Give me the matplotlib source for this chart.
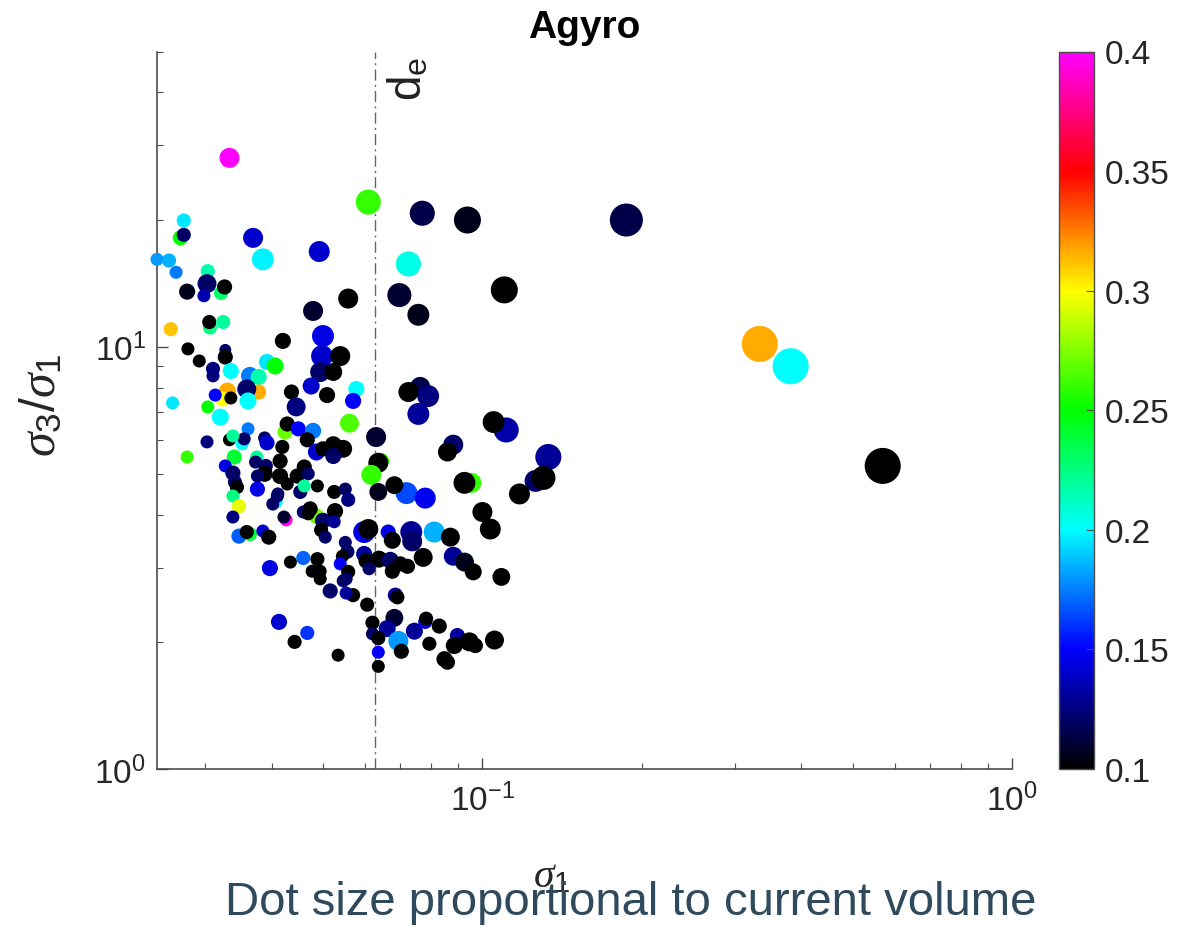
import numpy as np
import matplotlib
matplotlib.use("Agg")
import matplotlib.pyplot as plt
from matplotlib.colors import LinearSegmentedColormap

plt.rcParams["font.family"] = ["Liberation Sans", "DejaVu Sans"]
plt.rcParams["mathtext.fontset"] = "custom"
plt.rcParams["mathtext.rm"] = "Liberation Sans"
plt.rcParams["mathtext.it"] = "Liberation Serif:italic"
plt.rcParams["mathtext.bf"] = "Liberation Sans:bold"
plt.rcParams["axes.unicode_minus"] = False

# sigma_1 of each grain
sigma1 = [
    0.0333, 0.0273, 0.0269, 0.0273, 0.0243, 0.0256, 0.0264, 0.0369, 0.0385, 0.0492,
    0.0303, 0.0302, 0.0298, 0.0321, 0.0326, 0.0277, 0.0558, 0.0479, 0.0258, 0.0306,
    0.0305, 0.0324, 0.0278, 0.0292, 0.0327, 0.0327, 0.0420, 0.0500, 0.0498, 0.0539,
    0.0494, 0.0523, 0.0392, 0.0406, 0.0310, 0.0310, 0.0335, 0.0364, 0.0378, 0.0330,
    0.0378, 0.0359, 0.0323, 0.0313, 0.0335, 0.0361, 0.0303, 0.0260, 0.0320, 0.0436,
    0.0509, 0.0475, 0.0578, 0.0570, 0.0445, 0.0561,
    0.0424, 0.0428,
    0.0449, 0.0479, 0.0361, 0.0352, 0.0355, 0.0333, 0.0338, 0.0302, 0.0388, 0.0392, 0.0467, 0.0486,
    0.0500, 0.0523, 0.0546, 0.0523, 0.0419, 0.0415, 0.0277, 0.0340, 0.0327, 0.0338, 0.0341, 0.0344,
    0.0375, 0.0373,
    0.0390, 0.0388, 0.0415, 0.0376, 0.0447, 0.0461, 0.0469, 0.0428, 0.0411, 0.0453, 0.0376, 0.0461,
    0.0488, 0.0525, 0.0551, 0.0338,
    0.0347, 0.0338, 0.0408, 0.0402, 0.0410, 0.0558, 0.0426, 0.0422, 0.0459, 0.0486,
    0.0473, 0.0469, 0.0500, 0.0527, 0.0496, 0.0505, 0.0525, 0.0347, 0.0364, 0.0359,
    0.0385, 0.0395, 0.0551, 0.0556, 0.0544, 0.0539, 0.0558, 0.0553, 0.0570, 0.0516,
    0.0488, 0.0477, 0.0494, 0.0494, 0.0459, 0.0434, 0.0397, 0.0413, 0.0467, 0.0442, 0.0534,
    0.0609, 0.0770, 0.0937, 0.0725, 0.0697, 0.0757, 0.1100, 0.187, 0.334, 0.382, 0.570,
    0.0763, 0.0790, 0.0725,
    0.0757, 0.1109, 0.1050, 0.0881, 0.0859, 0.1332, 0.1260, 0.1304, 0.0953, 0.0925,
    0.1175, 0.0719, 0.0780, 0.1000, 0.1035, 0.0630, 0.0644, 0.0636, 0.0617, 0.0636,
    0.0682, 0.0598, 0.0609, 0.0664, 0.0734, 0.0737, 0.0811, 0.0870, 0.0676,
    0.0598, 0.0603, 0.0638, 0.0670, 0.0676, 0.0611, 0.0700, 0.0722, 0.0773, 0.0881,
    0.0925, 0.0961, 0.1086, 0.0546, 0.0553, 0.0606, 0.0685, 0.0691, 0.0682, 0.0620,
    0.0620, 0.0661, 0.0636, 0.0694, 0.0744, 0.0780, 0.0783, 0.0829, 0.0703, 0.0636,
    0.0636, 0.0794, 0.0897, 0.0885, 0.0945, 0.0970, 0.1054, 0.0848, 0.0859,
]

# sigma_3 / sigma_1 ratio
ratio31 = [
    28.0, 19.9, 18.1, 18.4, 16.1, 16.0, 15.0, 18.1, 16.1, 16.8,
    15.1, 14.1, 13.2, 13.4, 13.85, 13.5, 13.0, 12.15, 11.0, 11.1,
    11.44, 11.44, 9.88, 9.25, 9.83, 9.45, 10.32, 10.6, 9.50, 9.50,
    8.71, 8.71, 9.20, 9.00, 8.86, 8.53, 8.76, 8.53, 8.48, 7.85,
    7.81, 7.94, 7.52, 7.68, 7.56, 7.44, 7.20, 7.36, 6.81, 7.81,
    7.68, 8.07, 7.94, 7.44, 7.20, 6.59,
    6.28, 6.56,
    6.39, 6.32, 6.39, 5.89, 6.05, 6.02, 6.15, 5.95, 6.08, 5.92, 6.02, 5.63,
    5.73, 5.86, 5.73, 5.51, 5.79, 5.36, 5.48, 5.48, 5.22, 5.02, 4.78, 4.65,
    5.48, 5.33,
    5.22, 5.00, 4.94, 4.94, 4.94, 5.19, 5.00, 4.73, 4.48, 4.53, 4.60, 4.68,
    4.68, 4.53, 4.60, 4.43,
    4.19, 3.95, 4.29, 4.24, 4.43, 4.34, 3.89, 3.95, 4.06, 3.97,
    4.13, 4.02, 3.87, 4.08, 3.68, 3.54, 3.85, 3.56, 3.60, 3.64,
    3.66, 3.54, 3.44, 3.27, 3.19, 3.06, 2.93, 2.82, 2.58, 2.64,
    3.14, 2.94, 2.94, 2.82, 3.16, 3.09, 2.99, 2.23, 2.10, 2.00, 1.86,
    22.0, 20.7, 19.95, 15.7, 13.25, 11.9, 13.63, 19.95, 10.15, 8.99, 5.22,
    8.03, 7.64, 7.81,
    6.93, 6.35, 6.63, 5.86, 5.63, 5.48, 4.81, 4.89, 4.76, 4.76,
    4.48, 4.50, 4.38, 4.06, 3.70, 6.11, 5.36, 5.31, 4.97, 4.53,
    4.70, 3.64, 3.70, 3.64, 3.64, 3.46, 3.64, 3.54, 3.48,
    3.23, 3.11, 3.14, 3.12, 2.94, 2.98, 3.06, 3.02, 3.17, 3.19,
    3.09, 2.93, 2.85, 2.79, 2.61, 2.45, 2.58, 2.55, 2.28, 2.22,
    2.09, 2.15, 2.04, 2.01, 2.12, 2.23, 2.27, 2.18, 1.90, 1.89,
    1.75, 1.98, 2.07, 1.96, 2.00, 1.96, 2.02, 1.82, 1.79,
]

# current volume (arbitrary units)
volume = [
    4.0, 2.0, 2.3, 2.0, 1.7, 2.0, 1.7, 4.0, 4.8, 4.4,
    2.0, 3.6, 1.7, 2.0, 2.3, 2.6, 4.0, 4.0, 2.0, 2.0,
    2.0, 2.0, 1.7, 1.7, 1.4, 2.3, 2.6, 4.8, 4.8, 4.0,
    4.0, 3.2, 2.6, 2.9, 2.0, 1.7, 2.6, 3.2, 2.6, 2.9,
    2.3, 3.6, 2.3, 1.7, 1.7, 2.9, 1.7, 1.7, 2.9, 2.3,
    2.6, 2.9, 2.6, 2.6, 3.6, 3.6,
    2.3, 2.3,
    2.3, 2.6, 1.7, 1.7, 1.7, 1.7, 1.7, 1.7, 1.7, 2.3, 2.3, 2.9,
    2.3, 2.9, 3.2, 2.6, 2.0, 2.3, 1.7, 2.3, 1.7, 2.3, 2.0, 2.0,
    1.7, 1.7,
    2.0, 2.6, 2.6, 1.7, 2.3, 2.3, 1.7, 1.7, 1.7, 2.0, 2.3, 1.7,
    1.7, 2.0, 1.7, 1.7,
    2.0, 1.7, 1.7, 1.7, 1.7, 2.0, 1.7, 1.7, 1.7, 2.3,
    2.3, 1.7, 2.6, 2.6, 2.0, 1.7, 1.7, 2.3, 2.0, 2.0,
    1.7, 2.3, 1.7, 2.0, 1.7, 1.7, 2.0, 1.7, 2.0, 2.3,
    2.0, 1.7, 1.7, 1.7, 2.0, 1.7, 2.6, 2.6, 2.0, 2.0, 1.7,
    6.3, 6.3, 7.3, 6.3, 5.8, 4.8, 7.3, 10.9, 13.0, 13.0, 13.0,
    4.0, 4.8, 4.0,
    4.8, 6.3, 4.8, 4.0, 3.6, 6.8, 4.8, 5.8, 4.0, 4.8,
    4.4, 4.8, 4.4, 4.0, 4.4, 4.0, 2.6, 4.0, 4.0, 3.2,
    3.2, 4.8, 4.0, 2.3, 4.8, 4.0, 4.4, 3.6, 2.9,
    2.6, 2.3, 2.9, 2.9, 2.3, 1.7, 2.3, 2.3, 3.6, 3.6,
    3.6, 2.9, 3.2, 1.7, 1.7, 2.0, 2.3, 2.0, 3.2, 2.0,
    1.7, 2.9, 2.0, 4.0, 2.9, 2.0, 2.0, 2.3, 2.3, 1.7,
    1.7, 2.0, 2.3, 2.9, 3.6, 2.3, 3.6, 2.6, 2.3,
]

# colour quantity of each grain
cvalue = [
    0.40, 0.195, 0.25, 0.12, 0.18, 0.185, 0.175, 0.14, 0.198, 0.14,
    0.215, 0.12, 0.135, 0.23, 0.10, 0.105, 0.10, 0.11, 0.312, 0.225,
    0.10, 0.22, 0.10, 0.10, 0.12, 0.10, 0.10, 0.145, 0.14, 0.10,
    0.12, 0.10, 0.195, 0.25, 0.125, 0.125, 0.20, 0.175, 0.215, 0.316,
    0.316, 0.12, 0.30, 0.15, 0.10, 0.20, 0.25, 0.195, 0.20, 0.10,
    0.10, 0.14, 0.20, 0.15, 0.125, 0.265,
    0.27, 0.10,
    0.15, 0.175, 0.175, 0.20, 0.12, 0.10, 0.22, 0.125, 0.12, 0.14, 0.10, 0.14,
    0.10, 0.10, 0.10, 0.12, 0.10, 0.10, 0.26, 0.24, 0.145, 0.12, 0.12, 0.10,
    0.22, 0.12,
    0.12, 0.10, 0.10, 0.12, 0.10, 0.10, 0.12, 0.10, 0.12, 0.12, 0.145, 0.22,
    0.10, 0.10, 0.12, 0.225,
    0.295, 0.125, 0.20, 0.12, 0.12, 0.125, 0.40, 0.11, 0.12, 0.27,
    0.10, 0.10, 0.12, 0.10, 0.10, 0.12, 0.13, 0.168, 0.24, 0.10,
    0.14, 0.10, 0.12, 0.12, 0.10, 0.15, 0.10, 0.12, 0.10, 0.12,
    0.10, 0.10, 0.10, 0.10, 0.17, 0.10, 0.145, 0.14, 0.16, 0.10, 0.10,
    0.26, 0.115, 0.105, 0.205, 0.11, 0.105, 0.10, 0.115, 0.316, 0.20, 0.10,
    0.115, 0.125, 0.10,
    0.13, 0.133, 0.10, 0.12, 0.10, 0.13, 0.12, 0.10, 0.26, 0.10,
    0.10, 0.165, 0.148, 0.10, 0.10, 0.11, 0.26, 0.10, 0.26, 0.105,
    0.10, 0.145, 0.10, 0.145, 0.13, 0.12, 0.185, 0.10, 0.10,
    0.13, 0.10, 0.10, 0.12, 0.10, 0.12, 0.10, 0.10, 0.10, 0.13,
    0.105, 0.10, 0.10, 0.12, 0.13, 0.10, 0.13, 0.10, 0.11, 0.10,
    0.12, 0.13, 0.10, 0.18, 0.13, 0.145, 0.10, 0.10, 0.10, 0.15,
    0.10, 0.10, 0.13, 0.10, 0.10, 0.10, 0.10, 0.10, 0.10,
]

n = len(sigma1)
assert len(ratio31) == n and len(volume) == n and len(cvalue) == n

d_e = 0.0626
cbar_ticks = [0.1, 0.15, 0.2, 0.25, 0.3, 0.35, 0.4]

cmap = LinearSegmentedColormap.from_list(
    "kbcgyrm",
    ["#000000", "#0000ff", "#00ffff", "#00ff00", "#ffff00", "#ff0000", "#ff00ff"],
)

W, H = 1195, 928
fig = plt.figure(figsize=(W / 100, H / 100), dpi=100)
ax = fig.add_axes([157 / W, 1 - 770 / H, (1012 - 157) / W, (770 - 52.5) / H])
cax = fig.add_axes([1058.7 / W, 1 - 770 / H, 35.3 / W, (770 - 52.5) / H])

axis_col = "#4d4d4d"
sizes = np.asarray(volume) * 51.84
sc = ax.scatter(sigma1, ratio31, s=sizes, c=cvalue, cmap=cmap, vmin=0.1, vmax=0.4,
                linewidths=0, clip_on=False, zorder=3)

ax.set_xscale("log")
ax.set_yscale("log")
ax.set_xlim(0.0243, 1)
ax.set_ylim(1, 50)

ax.axvline(d_e, color="#666666", lw=1.0, ls=(0, (8, 3, 1.5, 3)), zorder=2)
ax.text(0.0728, 49.0, r"$\mathrm{d}_\mathrm{e}$", rotation=90, fontsize=33,
        ha="center", va="top", color="#222222")

for s in ["top", "right"]:
    ax.spines[s].set_visible(False)
for s in ["left", "bottom"]:
    ax.spines[s].set_color(axis_col)
    ax.spines[s].set_linewidth(1.2)
ax.tick_params(which="both", direction="in", colors=axis_col, labelcolor="#262626",
               labelsize=24)
ax.tick_params(which="major", length=8, width=1)
ax.tick_params(which="minor", length=4, width=0.8)
ax.tick_params(axis="x", pad=10)
ax.tick_params(axis="y", pad=8)

ax.text((552 - 157) / 855, (770 - 876) / 717.5, r"$\sigma_1$", transform=ax.transAxes,
        ha="center", va="center", fontsize=30, color="#262626")
ax.text((42 - 157) / 855, (770 - 405) / 717.5, r"$\sigma_3/\sigma_1$", transform=ax.transAxes,
        ha="center", va="center", fontsize=36, rotation=90, color="#262626")

fig.text(584 / W, 1 - 28 / H, "Agyro", ha="center", va="center", fontsize=28,
         fontweight="bold", color="black")

cb = fig.colorbar(sc, cax=cax)
cb.set_ticks(cbar_ticks)
cb.set_ticklabels(["0.1", "0.15", "0.2", "0.25", "0.3", "0.35", "0.4"])
cb.outline.set_edgecolor(axis_col)
cb.outline.set_linewidth(1.0)
cax.tick_params(direction="in", length=6, width=0.8, colors=axis_col,
                labelcolor="#262626", labelsize=24, pad=8)
cax.minorticks_off()

fig.text(631 / W, 1 - 903 / H, "Dot size proportional to current volume",
         ha="center", va="center", fontsize=34, color="#2e4a5c")

fig.savefig("out.png", dpi=100)
